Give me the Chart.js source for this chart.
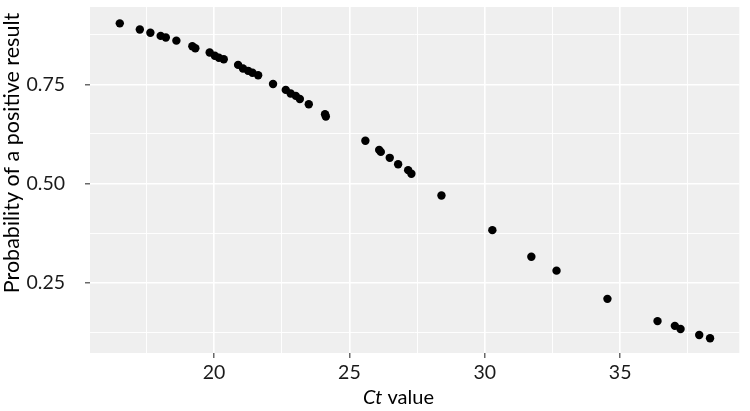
<!DOCTYPE html>
<html>
<head>
<meta charset="utf-8">
<script src="https://cdn.jsdelivr.net/npm/chart.js@4"></script>
<style>
html,body{margin:0;padding:0;background:#fff;}
#wrap{width:750px;height:411px;position:relative;}
</style>
</head>
<body>
<div id="wrap"><canvas id="c" width="750" height="411"></canvas></div>
<script>
const ctValues = [16.52,17.26,17.65,18.03,18.22,18.61,19.20,19.31,19.84,20.03,20.18,20.36,20.89,21.07,21.26,21.42,21.63,22.18,22.65,22.83,23.02,23.17,23.50,24.10,24.13,25.59,26.10,26.16,26.49,26.80,27.17,27.29,28.40,30.28,31.72,32.65,34.53,36.38,37.02,37.23,37.92,38.32];
const probValues = [0.9035,0.888,0.880,0.872,0.868,0.860,0.846,0.841,0.830,0.822,0.817,0.813,0.799,0.790,0.784,0.779,0.773,0.751,0.736,0.727,0.721,0.713,0.700,0.675,0.669,0.608,0.585,0.580,0.565,0.549,0.534,0.525,0.470,0.383,0.316,0.281,0.210,0.154,0.142,0.134,0.119,0.111];
const xMajorTicks = [20,25,30,35];
const xMinorTicks = [17.5,22.5,27.5,32.5,37.5];
const yMajorTicks = [0.25,0.50,0.75];
const yMinorTicks = [0.125,0.375,0.625,0.875];
const xRange = [15.42,39.40];
const yRange = [0.0737,0.9447];
const xTitleItalic = 'Ct';
const xTitleRest = ' value';
const yTitle = 'Probability of a positive result';

const FONT = "Lato, 'Open Sans', sans-serif";
const TICK_SIZE = 19.5;
const XTITLE_SIZE = 20;
const YTITLE_SIZE = 21.5;

const points = ctValues.map((x,i)=>({x:x,y:probValues[i]}));

function allTicks(major, minor){
  return major.concat(minor).sort((a,b)=>a-b).map(v=>({value:v}));
}
function isMajor(list, v){ return list.some(m=>Math.abs(m-v)<1e-9); }

const panelBg = {
  id:'panelBg',
  beforeDraw(chart){
    const {ctx, chartArea:a} = chart;
    ctx.save();
    ctx.fillStyle = '#EFEFEF';
    ctx.fillRect(a.left, a.top, a.right-a.left, a.bottom-a.top);
    ctx.restore();
  }
};
const titles = {
  id:'titles',
  afterDraw(chart){
    const {ctx} = chart;
    ctx.save();
    ctx.fillStyle = '#000';
    ctx.textBaseline = 'middle';
    const cx = 398.5;
    ctx.font = "italic " + XTITLE_SIZE + "px " + FONT;
    const w1 = ctx.measureText(xTitleItalic).width;
    ctx.font = XTITLE_SIZE + "px " + FONT;
    const w2 = ctx.measureText(xTitleRest).width;
    const sx = cx - (w1+w2)/2;
    ctx.textAlign = 'left';
    ctx.font = "italic " + XTITLE_SIZE + "px " + FONT;
    ctx.fillText(xTitleItalic, sx, 398);
    ctx.font = XTITLE_SIZE + "px " + FONT;
    ctx.fillText(xTitleRest, sx + w1, 398);
    ctx.translate(12, 153);
    ctx.rotate(-Math.PI/2);
    ctx.textAlign = 'center';
    ctx.font = YTITLE_SIZE + "px " + FONT;
    ctx.fillText(yTitle, 0, 0);
    ctx.restore();
  }
};

new Chart(document.getElementById('c'), {
  type:'scatter',
  data:{datasets:[{
    data:points,
    backgroundColor:'#000',
    borderColor:'#000',
    pointRadius:4.2,
    pointHoverRadius:4.2,
    borderWidth:0
  }]},
  options:{
    responsive:false,
    animation:false,
    events:[],
    layout:{padding:{left:0,right:10.7,top:7,bottom:0}},
    plugins:{legend:{display:false},tooltip:{enabled:false}},
    scales:{
      x:{
        type:'linear',
        min:xRange[0], max:xRange[1],
        afterBuildTicks:(s)=>{ s.ticks = allTicks(xMajorTicks, xMinorTicks); },
        afterFit:(s)=>{ s.height = 58; s.paddingLeft = 0; s.paddingRight = 0; },
        border:{display:false},
        grid:{
          color:'#FFFFFF',
          lineWidth:(c)=> c.tick && isMajor(xMajorTicks, c.tick.value) ? 1.6 : 0.9,
          tickColor:(c)=> c.tick && isMajor(xMajorTicks, c.tick.value) ? '#444' : 'rgba(0,0,0,0)',
          tickLength:5,
          tickWidth:1.2,
          drawOnChartArea:true
        },
        ticks:{
          autoSkip:false,
          maxRotation:0,
          color:'#1a1a1a',
          font:{family:FONT,size:TICK_SIZE},
          padding:3,
          callback:(v)=> isMajor(xMajorTicks, v) ? String(v) : ''
        }
      },
      y:{
        type:'linear',
        min:yRange[0], max:yRange[1],
        afterBuildTicks:(s)=>{ s.ticks = allTicks(yMajorTicks, yMinorTicks); },
        afterFit:(s)=>{ s.width = 90; s.paddingTop = 0; s.paddingBottom = 0; },
        border:{display:false},
        grid:{
          color:'#FFFFFF',
          lineWidth:(c)=> c.tick && isMajor(yMajorTicks, c.tick.value) ? 1.6 : 0.9,
          tickColor:(c)=> c.tick && isMajor(yMajorTicks, c.tick.value) ? '#444' : 'rgba(0,0,0,0)',
          tickLength:5,
          tickWidth:1.2
        },
        ticks:{
          autoSkip:false,
          color:'#1a1a1a',
          font:{family:FONT,size:TICK_SIZE},
          padding:20,
          callback:(v)=> isMajor(yMajorTicks, v) ? v.toFixed(2) : ''
        }
      }
    }
  },
  plugins:[panelBg, titles]
});
</script>
</body>
</html>
